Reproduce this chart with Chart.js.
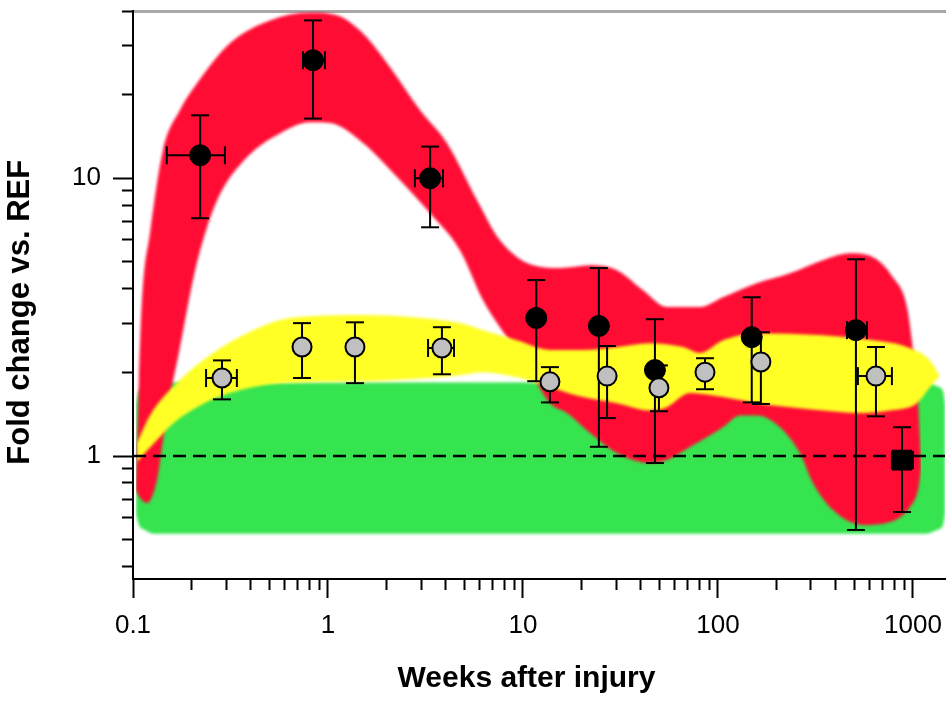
<!DOCTYPE html>
<html>
<head>
<meta charset="utf-8">
<title>Fold change vs. REF</title>
<script src="https://cdn.jsdelivr.net/npm/chart.js@4.4.1/dist/chart.umd.min.js"></script>
<style>
    html, body { margin: 0; padding: 0; background: #fff; overflow: hidden; }
    #wrap { width: 948px; height: 707px; }
    canvas { display: block; }
</style>
</head>
<body>
<div id="wrap"><canvas id="foldChart" width="948" height="707"></canvas></div>
<script>
// black points (filled), last one drawn as a square
const blackX   = [0.221, 0.838, 3.34, 11.7, 24.5, 47.5, 149, 510, 879];
const blackY   = [12.1, 26.6, 10.0, 3.14, 2.94, 2.04, 2.68, 2.84, 0.967];
const blackLo  = [7.18, 16.4, 6.66, 1.86, 1.08, 0.944, 1.56, 0.542, 0.629];
const blackHi  = [16.85, 37.0, 13.0, 4.30, 4.75, 3.11, 3.73, 5.11, 1.27];
const blackXLo = [0.149, 0.744, 2.79, null, null, null, null, 459, 780];
const blackXHi = [0.296, 0.965, 3.89, null, null, null, null, 581, 1000];

// grey points (open)
const grayX   = [0.286, 0.736, 1.375, 3.84, 13.75, 27.0, 49.8, 85.8, 166, 646];
const grayY   = [1.91, 2.47, 2.47, 2.45, 1.85, 1.94, 1.76, 2.005, 2.18, 1.94];
const grayLo  = [1.60, 1.91, 1.83, 1.97, 1.56, 1.37, 1.45, 1.74, 1.54, 1.39];
const grayHi  = [2.21, 3.01, 3.03, 2.91, 2.09, 2.49, 2.12, 2.25, 2.79, 2.47];
const grayXLo = [0.237, null, null, 3.26, null, null, null, null, null, 522];
const grayXHi = [0.341, null, null, 4.43, null, null, null, null, null, 780];

// red band
const redUpperX = [0.1036, 0.1073, 0.1112, 0.1222, 0.1425, 0.1742, 0.213, 0.314, 0.504, 0.808, 1.112, 1.512, 2.08, 2.96, 4.07, 5.81, 7.62, 11.25, 15.5, 22.1, 30.3, 41.2, 54.7, 80.9, 106, 158, 234, 345, 475, 624, 789, 931, 1000, 1061, 1099];
const redUpperY = [0.786, 1.877, 3.64, 6.34, 12.61, 17.6, 21.97, 30.6, 37.0, 39.5, 38.6, 33.2, 25.1, 17.6, 13.4, 8.34, 5.98, 4.86, 4.75, 4.86, 4.67, 3.96, 3.44, 3.44, 3.73, 4.19, 4.55, 5.07, 5.37, 5.20, 4.40, 3.44, 2.41, 1.59, 0.967];
const redLowerX = [0.1036, 0.1086, 0.118, 0.1328, 0.1425, 0.1548, 0.1742, 0.203, 0.221, 0.270, 0.384, 0.567, 0.808, 1.024, 1.512, 2.26, 3.34, 4.75, 6.24, 7.62, 10.24, 13.75, 16.8, 22.1, 30.3, 44.8, 54.7, 71.8, 106, 130, 158, 208, 263, 307, 389, 554, 762, 966, 1061, 1099];
const redLowerY = [0.755, 0.706, 0.678, 0.820, 1.142, 1.63, 2.47, 4.30, 5.51, 8.34, 11.9, 14.5, 15.9, 15.8, 13.4, 10.1, 7.48, 5.51, 3.64, 2.91, 2.18, 1.55, 1.43, 1.21, 1.025, 0.944, 0.967, 1.077, 1.27, 1.40, 1.40, 1.27, 1.025, 0.80, 0.639, 0.565, 0.579, 0.656, 0.755, 0.890];

// yellow band
const yellowUpperX = [0.1048, 0.1222, 0.1742, 0.257, 0.384, 0.567, 0.838, 1.512, 2.73, 4.75, 6.24, 9.32, 13.75, 20.3, 30.3, 44.8, 66.2, 80.9, 106, 158, 345, 624, 931, 1222, 1375];
const yellowUpperY = [1.114, 1.40, 1.877, 2.35, 2.77, 3.09, 3.19, 3.22, 3.16, 3.01, 2.84, 2.61, 2.41, 2.41, 2.47, 2.55, 2.47, 2.35, 2.61, 2.77, 2.72, 2.61, 2.47, 2.21, 1.94];
const yellowLowerX = [0.1048, 0.1125, 0.1328, 0.1604, 0.213, 0.314, 0.567, 1.512, 3.34, 4.75, 6.24, 9.32, 13.75, 20.3, 30.3, 44.8, 54.7, 71.8, 106, 158, 234, 345, 516, 762, 1048, 1222, 1375];
const yellowLowerY = [0.951, 1.008, 1.142, 1.31, 1.50, 1.685, 1.83, 1.86, 1.91, 1.955, 2.005, 1.92, 1.77, 1.63, 1.55, 1.46, 1.50, 1.685, 1.63, 1.55, 1.50, 1.46, 1.43, 1.46, 1.55, 1.77, 1.94];

// green band
const greenX       = [0.1036, 0.1073, 0.1152, 0.1297, 1152, 1328, 1426, 1460];
const greenTopY    = [1.55, 1.71, 1.785, 1.84, 1.84, 1.785, 1.71, 1.55];
const greenBottomY = [0.619, 0.565, 0.542, 0.525, 0.525, 0.542, 0.565, 0.619];

const refLevel = 1;

const xMin = 0.1, xMax = 1460;
const yMin = 0.361, yMax = 40;
const xDecades = [0.1, 1, 10, 100, 1000];
const yDecades = [0.1, 1, 10];
const xTickLabels = ['0.1', '1', '10', '100', '1000'];
const yTickLabels = ['0.1', '1', '10'];

const FONT = "'Liberation Sans', Arial, sans-serif";

const pts = (xs, ys) => xs.map((x, i) => ({ x: x, y: ys[i] }));

function logTicks(decades, min, max) {
    const out = [];
    decades.forEach(d => {
        for (let m = 1; m < 10; m++) {
            const v = +(d * m).toPrecision(6);
            if (v >= min && v <= max) out.push({ value: v, major: m === 1 });
        }
    });
    return out;
}

function tickLabel(decades, labels) {
    return (v, i, ticks) => {
        const k = decades.indexOf(v);
        return ticks[i].major && k >= 0 ? labels[k] : '';
    };
}

// error bars as a broken line: lo -> hi, then a gap
function vStems(xs, lo, hi) {
    const out = [];
    xs.forEach((x, i) => out.push({ x: x, y: lo[i] }, { x: x, y: hi[i] }, { x: x, y: null }));
    return out;
}
function hStems(ys, xlo, xhi) {
    const out = [];
    ys.forEach((y, i) => {
        if (xlo[i] === null) return;
        out.push({ x: xlo[i], y: y }, { x: xhi[i], y: y }, { x: xhi[i], y: null });
    });
    return out;
}
function vCaps(xs, lo, hi) {
    const out = [];
    xs.forEach((x, i) => out.push({ x: x, y: lo[i] }, { x: x, y: hi[i] }));
    return out;
}
function hCaps(ys, xlo, xhi) {
    const out = [];
    ys.forEach((y, i) => {
        if (xlo[i] === null) return;
        out.push({ x: xlo[i], y: y }, { x: xhi[i], y: y });
    });
    return out;
}

function band(xs, ys, color, order, fill) {
    return {
        type: 'line', data: pts(xs, ys), order: order,
        borderWidth: 0, borderColor: 'transparent', backgroundColor: color,
        pointRadius: 0, cubicInterpolationMode: 'monotone', fill: fill
    };
}
function stemSet(data, order) {
    return {
        type: 'line', data: data, order: order, spanGaps: false,
        borderColor: '#000', borderWidth: 2, pointRadius: 0, fill: false
    };
}
function capSet(data, rotation, order) {
    return {
        type: 'scatter', data: data, order: order,
        pointStyle: 'line', pointRadius: 9, pointRotation: rotation,
        pointBorderColor: '#000', pointBorderWidth: 2
    };
}

// soften the edges of the coloured bands only
const softEdges = {
    id: 'softEdges',
    beforeDatasetsDraw(chart) { chart.ctx.filter = 'blur(1.6px)'; },
    beforeDatasetDraw(chart) { chart.ctx.filter = 'none'; },
    afterDatasetDraw(chart) { chart.ctx.filter = 'blur(1.6px)'; },
    afterDatasetsDraw(chart) { chart.ctx.filter = 'none'; }
};

const ctx = document.getElementById('foldChart').getContext('2d');
const chart = new Chart(ctx, {
    type: 'scatter',
    data: {
        datasets: [
            band(greenX, greenTopY, '#35e44f', 30, '+1'),
            band(greenX, greenBottomY, '#35e44f', 29, false),
            band(redUpperX, redUpperY, '#ff0c34', 28, '+1'),
            band(redLowerX, redLowerY, '#ff0c34', 27, false),
            band(yellowUpperX, yellowUpperY, '#ffff26', 26, '+1'),
            band(yellowLowerX, yellowLowerY, '#ffff26', 25, false),
            {
                type: 'line', data: [{ x: xMin, y: refLevel }, { x: xMax, y: refLevel }], order: 20,
                borderColor: '#000', borderWidth: 2.5, borderDash: [13, 7], pointRadius: 0, fill: false
            },
            stemSet(vStems(blackX, blackLo, blackHi), 12),
            stemSet(hStems(blackY, blackXLo, blackXHi), 12),
            capSet(vCaps(blackX, blackLo, blackHi), 0, 11),
            capSet(hCaps(blackY, blackXLo, blackXHi), 90, 11),
            {
                type: 'scatter', data: pts(blackX, blackY), order: 10,
                pointStyle: c => c.dataIndex === blackX.length - 1 ? 'rect' : 'circle',
                pointRadius: c => c.dataIndex === blackX.length - 1 ? 14 : 10.5,
                pointBackgroundColor: '#000', pointBorderColor: '#000', pointBorderWidth: 1
            },
            stemSet(vStems(grayX, grayLo, grayHi), 6),
            stemSet(hStems(grayY, grayXLo, grayXHi), 6),
            capSet(vCaps(grayX, grayLo, grayHi), 0, 5),
            capSet(hCaps(grayY, grayXLo, grayXHi), 90, 5),
            {
                type: 'scatter', data: pts(grayX, grayY), order: 1,
                pointStyle: 'circle', pointRadius: 9.5,
                pointBackgroundColor: '#c0c0c0', pointBorderColor: '#000', pointBorderWidth: 2
            }
        ]
    },
    options: {
        responsive: false,
        animation: false,
        events: [],
        layout: { autoPadding: false, padding: { top: 11, right: 3, bottom: 0, left: 0 } },
        plugins: {
            legend: { display: false },
            tooltip: { enabled: false }
        },
        scales: {
            x: {
                type: 'logarithmic', position: 'bottom', min: xMin, max: xMax,
                afterBuildTicks: s => { s.ticks = logTicks(xDecades, xMin, xMax); },
                afterFit: s => { s.height = 128; s.paddingLeft = 0; s.paddingRight = 0; },
                border: { display: true, color: '#000', width: 2 },
                grid: {
                    drawOnChartArea: false, tickLength: 19, tickWidth: 2, tickColor: '#000',
                    tickBorderDash: c => (c.tick && c.tick.major) ? [] : [10, 40]
                },
                ticks: {
                    autoSkip: false, maxRotation: 0, padding: 12, color: '#000',
                    font: { family: FONT, size: 26 },
                    callback: tickLabel(xDecades, xTickLabels)
                },
                title: {
                    display: true, text: 'Weeks after injury   ', color: '#000',
                    font: { family: FONT, size: 30, weight: 'bold' },
                    padding: { top: 0, bottom: 10 }
                }
            },
            x2: {
                type: 'logarithmic', position: 'top', min: xMin, max: xMax,
                afterFit: s => { s.height = 0; s.paddingLeft = 0; s.paddingRight = 0; },
                grid: { display: false, drawTicks: false },
                ticks: { display: false },
                border: { display: true, color: '#a8a8a8', width: 3 }
            },
            y: {
                type: 'logarithmic', position: 'left', min: yMin, max: yMax,
                afterBuildTicks: s => { s.ticks = logTicks(yDecades, yMin, yMax); },
                afterFit: s => { s.width = 133; s.paddingTop = 0; s.paddingBottom = 0; },
                border: { display: true, color: '#000', width: 2 },
                grid: {
                    drawOnChartArea: false, tickLength: 20, tickWidth: 2, tickColor: '#000',
                    tickBorderDash: c => (c.tick && c.tick.major) ? [] : [0, 9, 11, 40]
                },
                ticks: {
                    autoSkip: false, padding: 12, color: '#000',
                    font: { family: FONT, size: 26 },
                    callback: tickLabel(yDecades, yTickLabels)
                },
                title: {
                    display: true, text: 'Fold change vs. REF    ', color: '#000',
                    font: { family: FONT, size: 31, weight: 'bold' },
                    padding: { top: 2, bottom: 0 }
                }
            }
        }
    },
    plugins: [softEdges]
});
</script>
</body>
</html>
